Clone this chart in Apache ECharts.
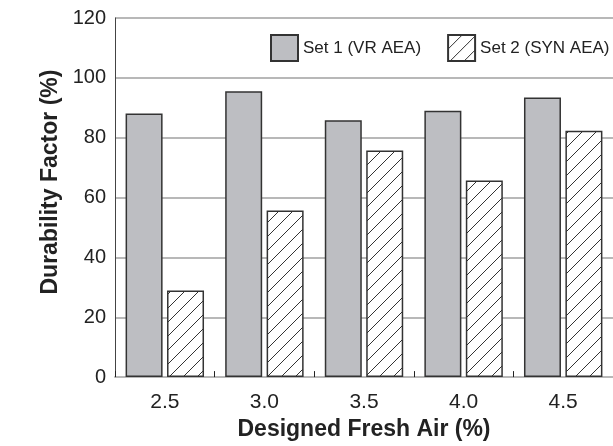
<!DOCTYPE html>
<html>
<head>
<meta charset="utf-8">
<script src="https://cdn.jsdelivr.net/npm/echarts@6/dist/echarts.min.js"></script>
<style>
html,body{margin:0;padding:0;background:#fff;}
#main{width:613px;height:446px;}
</style>
</head>
<body>
<div id="main"></div>
<script>
var categories = ['2.5', '3.0', '3.5', '4.0', '4.5'];
var set1Values = [88.1, 95.5, 85.8, 89.0, 93.4];
var set2Values = [28.9, 55.7, 75.7, 65.7, 82.3];
var seriesNames = ['Set 1 (VR AEA)', 'Set 2 (SYN AEA)'];

function makeHatch() {
  var s = 14;
  var c = document.createElement('canvas');
  c.width = s; c.height = s;
  var ctx = c.getContext('2d');
  ctx.fillStyle = '#ffffff';
  ctx.fillRect(0, 0, s, s);
  ctx.strokeStyle = '#333333';
  ctx.lineWidth = 1;
  ctx.beginPath();
  ctx.moveTo(-1, s + 1); ctx.lineTo(s + 1, -1);
  ctx.moveTo(-1, 1); ctx.lineTo(1, -1);
  ctx.moveTo(s - 1, s + 1); ctx.lineTo(s + 1, s - 1);
  ctx.stroke();
  return c;
}
var hatch = makeHatch();

var font = 'Liberation Sans, Arial, Helvetica, sans-serif';
var chart = echarts.init(document.getElementById('main'));
chart.setOption({
  animation: false,
  backgroundColor: '#ffffff',
  textStyle: { fontFamily: font },
  grid: { left: 115, top: 18, bottom: 68, right: -9 },
  legend: {
    left: 265, top: 29, width: 370,
    orient: 'horizontal',
    itemWidth: 27, itemHeight: 26, itemGap: 26,
    icon: 'rect',
    textStyle: { fontSize: 17, color: '#222', fontFamily: font },
    data: seriesNames
  },
  xAxis: {
    type: 'category',
    data: categories,
    name: 'Designed Fresh Air (%)',
    nameLocation: 'middle',
    nameGap: 36,
    nameTextStyle: { fontSize: 23, fontWeight: 'bold', color: '#222', fontFamily: font },
    axisLine: { lineStyle: { color: '#b8b8b8', width: 2 } },
    axisTick: { show: true, inside: true, length: 6, lineStyle: { color: '#222', width: 1 } },
    axisLabel: { fontSize: 21, color: '#222', margin: 15, fontFamily: font }
  },
  yAxis: {
    type: 'value',
    min: 0, max: 120, interval: 20,
    name: 'Durability Factor (%)',
    nameLocation: 'middle',
    nameGap: 53,
    nameTextStyle: { fontSize: 23, fontWeight: 'bold', color: '#222', fontFamily: font, padding: [0, 0, 0, 31] },
    axisLine: { show: true, lineStyle: { color: '#444', width: 1 } },
    axisTick: { show: false },
    axisLabel: { fontSize: 20, color: '#222', margin: 9, fontFamily: font },
    splitLine: { lineStyle: { color: '#b8b8b8', width: 2 } }
  },
  series: [
    {
      name: seriesNames[0],
      type: 'bar',
      data: set1Values,
      barWidth: 37,
      barGap: '12%',
      itemStyle: { color: '#bdbec2', borderColor: '#333', borderWidth: 1.5 }
    },
    {
      name: seriesNames[1],
      type: 'bar',
      data: set2Values,
      barWidth: 37,
      barGap: '12%',
      itemStyle: { color: { image: hatch, repeat: 'repeat' }, borderColor: '#333', borderWidth: 1.5 }
    }
  ]
});
</script>
</body>
</html>
